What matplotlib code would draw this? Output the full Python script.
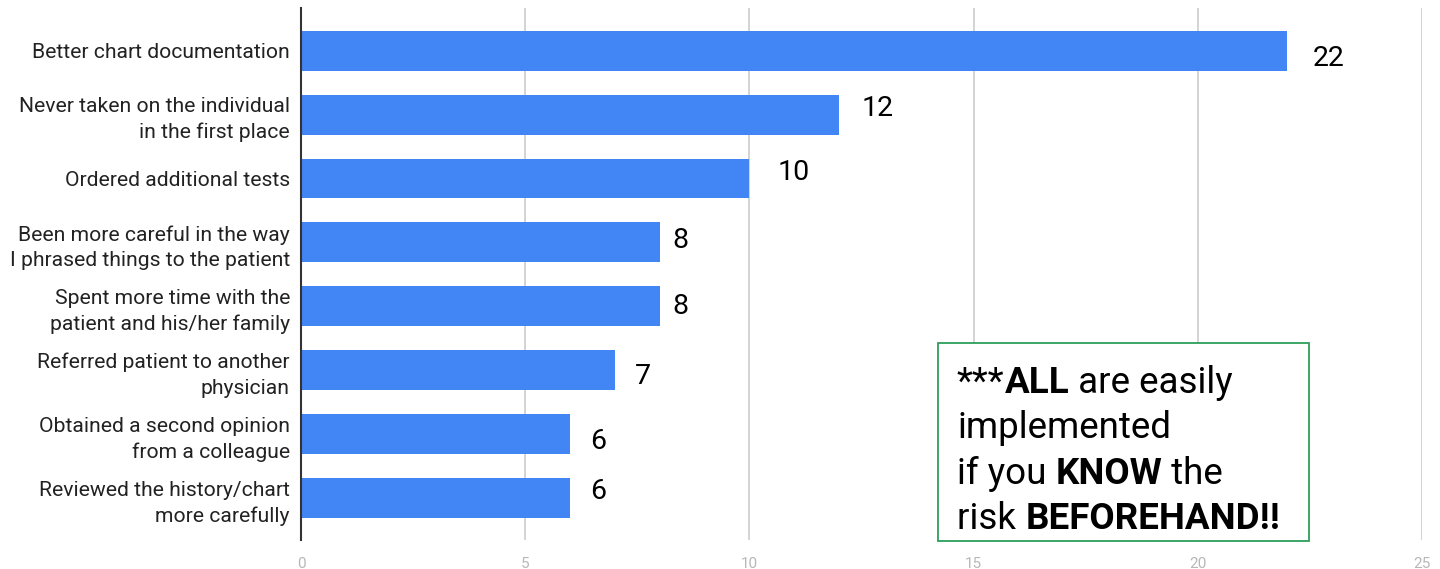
import matplotlib.pyplot as plt
from matplotlib.patches import Rectangle

plt.rcParams['font.family'] = ['Roboto', 'DejaVu Sans']

# survey answers, top to bottom
categories = [
    'Better chart documentation',
    'Never taken on the individual\nin the first place',
    'Ordered additional tests',
    'Been more careful in the way\nI phrased things to the patient',
    'Spent more time with the\npatient and his/her family',
    'Referred patient to another\nphysician',
    'Obtained a second opinion\nfrom a colleague',
    'Reviewed the history/chart\nmore carefully',
]
counts = [22, 12, 10, 8, 8, 7, 6, 6]
x_ticks = [0, 5, 10, 15, 20, 25]

# label nudges in pixels (dx right, dy down), as in the original slide
nudge_dx = [25, 22, 28, 13, 13, 20, 20, 20]
nudge_dy = [8, -6, -6, -2, 0, 6, 8, -6]

fig = plt.figure(figsize=(14.4, 5.69), dpi=100)
ax = fig.add_axes([301 / 1440, 1 - 540 / 569, (1422 - 301) / 1440, 532 / 569])

ypos = list(range(len(categories)))
ax.barh(ypos, counts, height=0.625, color='#4285f4', zorder=3)

for y, v, dx, dy in zip(ypos, counts, nudge_dx, nudge_dy):
    ax.annotate(str(v), (v, y), xytext=(dx, -dy), textcoords='offset pixels',
                ha='left', va='center', fontsize=20.5, color='black')

ax.set_xlim(0, 25)
ax.set_ylim(len(categories) - 0.34, -0.67)
ax.set_yticks(ypos)
ax.set_yticklabels(categories, fontsize=15.2, color='#222222', linespacing=1.42)
ax.set_xticks(x_ticks)
ax.set_xticklabels([str(t) for t in x_ticks], fontsize=11, color='#b7b7b7')
ax.tick_params(axis='both', length=0)
ax.tick_params(axis='y', pad=8)
ax.tick_params(axis='x', pad=12)
ax.xaxis.grid(True, color='#cccccc', linewidth=1.2, zorder=0)

for s in ['top', 'right', 'bottom']:
    ax.spines[s].set_visible(False)
ax.spines['left'].set_color('#333333')
ax.spines['left'].set_linewidth(1.5)
ax.spines['left'].set_zorder(4)

# note box
fig.patches.append(Rectangle((938 / 1440, 1 - 541 / 569), 371 / 1440, 198 / 569,
                             transform=fig.transFigure, facecolor='white',
                             edgecolor='#2e9e5b', linewidth=1.3, zorder=5))
note_lines = [
    [('***', 'normal'), ('ALL', 'bold'), (' are easily', 'normal')],
    [('implemented', 'normal')],
    [('if you ', 'normal'), ('KNOW', 'bold'), (' the', 'normal')],
    [('risk ', 'normal'), ('BEFOREHAND!!', 'bold')],
]
baselines = [393, 438, 484, 529]

fig.canvas.draw()
renderer = fig.canvas.get_renderer()
for parts, b in zip(note_lines, baselines):
    x = 957
    for txt, w in parts:
        t = fig.text(x / 1440, 1 - b / 569, txt, fontsize=26.5, fontweight=w,
                     ha='left', va='baseline', color='black', zorder=6)
        x += t.get_window_extent(renderer).width

fig.savefig('out.png', dpi=100)
